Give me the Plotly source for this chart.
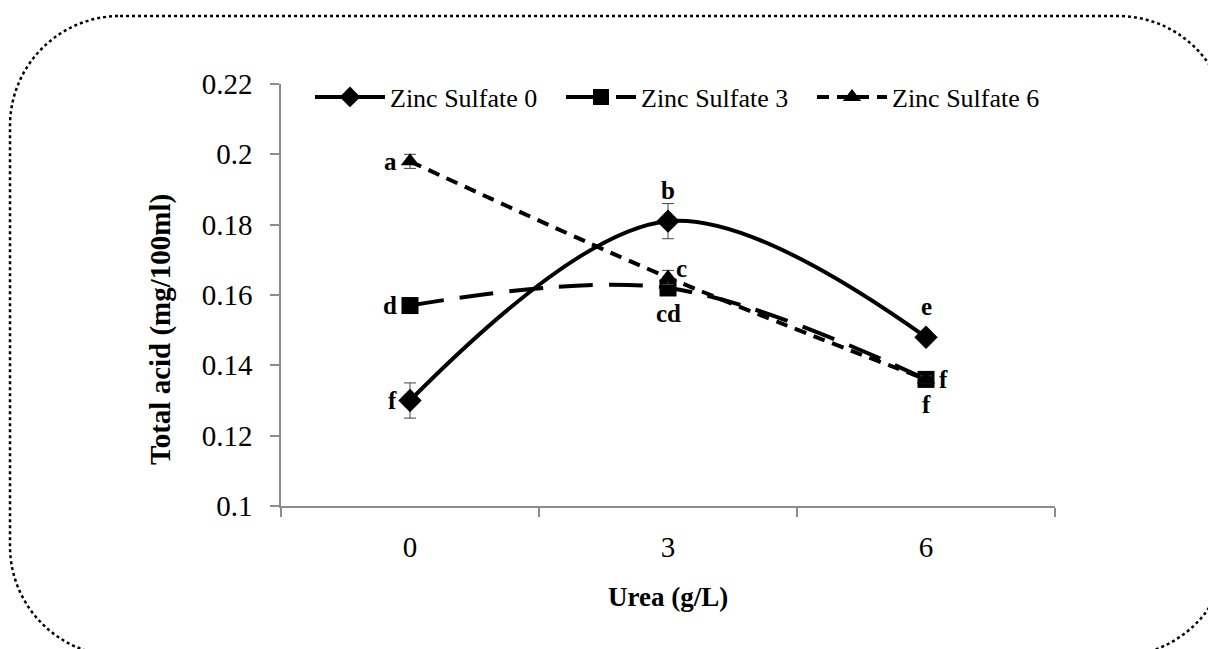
import plotly.graph_objects as go

# ---- data ----
urea = ["0", "3", "6"]
zinc0 = [0.130, 0.181, 0.148]
zinc0_err = [0.005, 0.005, 0.001]
zinc3 = [0.157, 0.162, 0.136]
zinc3_err = [0.001, 0.002, 0.001]
zinc6 = [0.198, 0.165, 0.136]
zinc6_err = [0.002, 0.002, 0.001]
letters0 = ["f", "b", "e"]
letters3 = ["d", "cd", "f"]
letters6 = ["a", "c", "f"]
series_names = ["Zinc Sulfate 0", "Zinc Sulfate 3", "Zinc Sulfate 6"]
y_ticks = [0.1, 0.12, 0.14, 0.16, 0.18, 0.2, 0.22]
y_ticktext = ["0.1", "0.12", "0.14", "0.16", "0.18", "0.2", "0.22"]

W, H = 1208, 649
L, R, T, B = 281, 1055, 84, 506  # plot area in px

SERIF = "Liberation Serif"

fig = go.Figure()

def add(name, y, err, symbol, size, dash):
    fig.add_trace(go.Scatter(
        x=urea, y=y, name=name, mode="lines+markers",
        line=dict(color="black", width=4, dash=dash, shape="spline", smoothing=1.0),
        marker=dict(symbol=symbol, size=size, color="black"),
        error_y=dict(type="data", array=err, visible=True, color="#444", thickness=1, width=6),
    ))

add(series_names[0], zinc0, zinc0_err, "diamond", 18, "solid")
add(series_names[1], zinc3, zinc3_err, "square", 17, "34px,16px")
add(series_names[2], zinc6, zinc6_err, "triangle-up", 16, "12px,8px")

# ---- letter annotations ----
lf = dict(family=SERIF, size=25, color="black")
def lab(i, y, t, pos):
    kw = dict(x=i, y=y, text="<b>%s</b>" % t, showarrow=False, font=lf)
    if pos == "left":
        kw.update(xanchor="right", yanchor="middle", xshift=-11)
    elif pos == "right":
        kw.update(xanchor="left", yanchor="middle", xshift=11)
    elif pos == "above":
        kw.update(xanchor="center", yanchor="bottom", yshift=15)
    elif pos == "below":
        kw.update(xanchor="center", yanchor="top", yshift=-10)
    elif pos == "upright":
        kw.update(xanchor="left", yanchor="middle", xshift=6, yshift=9)
    fig.add_annotation(**kw)

pos0 = ["left", "above", "above"]
pos3 = ["left", "below", "below"]
pos6 = ["left", "upright", "right"]
for i in range(len(urea)):
    lab(i, zinc0[i], letters0[i], pos0[i])
    lab(i, zinc3[i], letters3[i], pos3[i])
    lab(i, zinc6[i], letters6[i], pos6[i])

def px(x):
    return (x - L) / (R - L)

def py(y):
    return (B - y) / (B - T)

# axis titles
fig.add_annotation(x=px(668), y=py(597), xref="paper", yref="paper",
                   xanchor="center", yanchor="middle",
                   text="<b>Urea (g/L)</b>", showarrow=False,
                   font=dict(family=SERIF, size=27, color="black"))
fig.add_annotation(x=px(160), y=py(330), xref="paper", yref="paper",
                   xanchor="center", yanchor="middle",
                   text="<b>Total acid (mg/100ml)</b>", showarrow=False, textangle=-90,
                   font=dict(family=SERIF, size=29, color="black"))

# rounded dotted frame
x0, x1, y0, y1, r = 10, 1228, 16, 656, 110
k = 0.5523 * r
pts = [
    f"M {px(x0+r)},{py(y0)}",
    f"L {px(x1-r)},{py(y0)}",
    f"C {px(x1-r+k)},{py(y0)} {px(x1)},{py(y0+r-k)} {px(x1)},{py(y0+r)}",
    f"L {px(x1)},{py(y1-r)}",
    f"C {px(x1)},{py(y1-r+k)} {px(x1-r+k)},{py(y1)} {px(x1-r)},{py(y1)}",
    f"L {px(x0+r)},{py(y1)}",
    f"C {px(x0+r-k)},{py(y1)} {px(x0)},{py(y1-r+k)} {px(x0)},{py(y1-r)}",
    f"L {px(x0)},{py(y0+r)}",
    f"C {px(x0)},{py(y0+r-k)} {px(x0+r-k)},{py(y0)} {px(x0+r)},{py(y0)}",
    "Z",
]
fig.add_shape(type="path", path=" ".join(pts), xref="paper", yref="paper",
              line=dict(color="black", width=2.5, dash="dot"))

fig.update_layout(
    width=W, height=H,
    margin=dict(l=L, r=W - R, t=T, b=H - B, pad=0),
    paper_bgcolor="white", plot_bgcolor="white",
    showlegend=True,
    font=dict(family=SERIF, color="black"),
    legend=dict(orientation="h", x=px(310), y=py(97), xanchor="left", yanchor="middle",
                font=dict(family=SERIF, size=26, color="black"),
                entrywidth=166, entrywidthmode="pixels", itemwidth=70,
                bgcolor="rgba(0,0,0,0)"),
    xaxis=dict(type="category", showline=True, linecolor="#8c8c8c", linewidth=1.5,
               ticks="outside", tickson="boundaries", ticklen=9, tickcolor="#8c8c8c",
               tickwidth=1.5, showgrid=False, zeroline=False,
               tickfont=dict(family=SERIF, size=29, color="black"),
               ticklabelstandoff=14, range=[-0.5, 2.5]),
    yaxis=dict(range=[0.1, 0.22], tickvals=y_ticks, ticktext=y_ticktext,
               showline=True, linecolor="#8c8c8c", linewidth=1.5,
               ticks="outside", ticklen=9, tickcolor="#8c8c8c", tickwidth=1.5,
               showgrid=False, zeroline=False,
               tickfont=dict(family=SERIF, size=29, color="black"),
               ticklabelstandoff=12),
)

fig.write_html("out.html")
